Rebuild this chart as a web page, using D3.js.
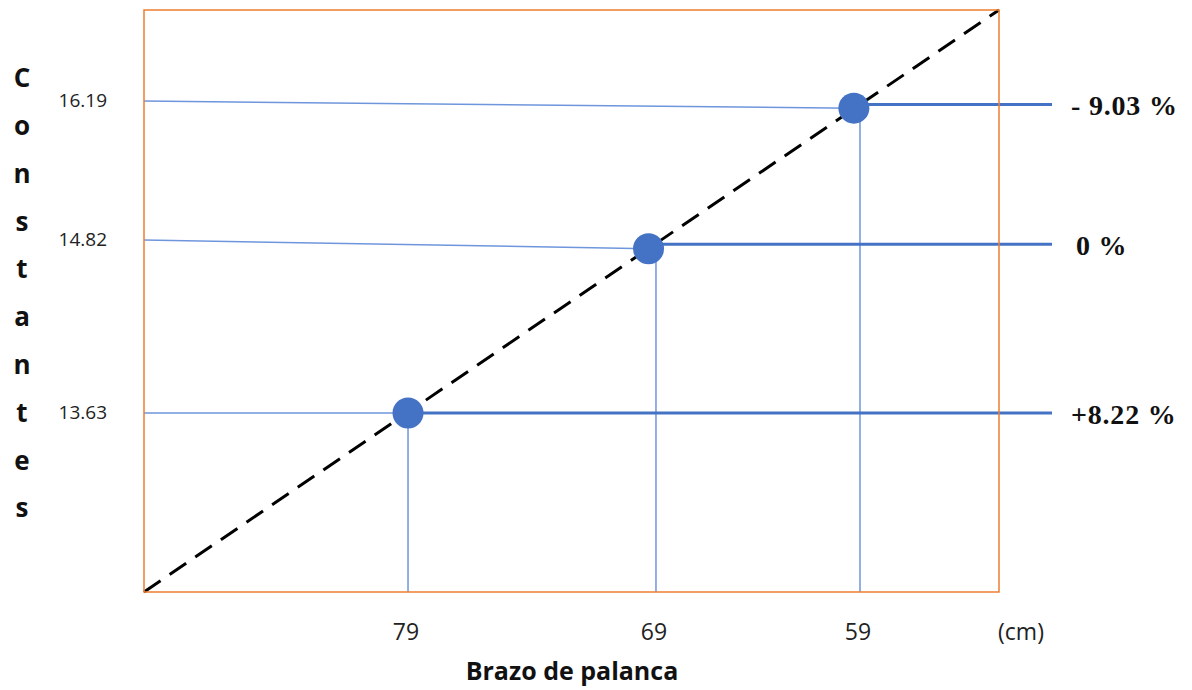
<!DOCTYPE html>
<html>
<head>
<meta charset="utf-8">
<script src="https://cdn.jsdelivr.net/npm/d3@7"></script>
<style>
  html, body { margin: 0; padding: 0; background: #fff; }
  svg { display: block; }
</style>
</head>
<body>
<svg id="chart" width="1192" height="690"></svg>
<script>
// ---- data ----
const xTicks = [79, 69, 59];                  // Brazo de palanca (cm)
const yTicks = [13.63, 14.82, 16.19];         // Constantes
const markerX = [79, 69.3, 59.3];             // marker positions (x value)
const markerY = [13.63, 14.76, 16.12];        // marker positions (y value)
const pctLabels = ["+8.22 %", "0 %", "- 9.03 %"];
const xDomain = [90, 79, 69, 59, 50];
const yDomain = [12.4, 13.63, 14.82, 16.19, 17.1];

const svg = d3.select("#chart");
const margin = {left: 144, top: 10, right: 193, bottom: 98};
const W = 1192, H = 690;
const w = W - margin.left - margin.right;
const h = H - margin.top - margin.bottom;

const x = d3.scaleLinear().domain(xDomain)
  .range([0, 0.3088, 0.5988, 0.8374, 1].map(f => f * w));
const y = d3.scaleLinear().domain(yDomain)
  .range([1, 0.6924, 0.3952, 0.1564, 0].map(f => f * h));

const g = svg.append("g").attr("transform", `translate(${margin.left},${margin.top})`);

const thin = "#6f96dc", thick = "#4472c4";

// diagonal dashed line
g.append("line")
  .attr("x1", 0).attr("y1", h).attr("x2", w).attr("y2", 0)
  .attr("stroke", "#000").attr("stroke-width", 3)
  .attr("stroke-dasharray", "20 11");

// thin horizontal lines from left edge to markers
g.selectAll(".hthin").data(yTicks).join("line")
  .attr("x1", 0).attr("y1", d => y(d))
  .attr("x2", (d, i) => x(markerX[i])).attr("y2", (d, i) => y(markerY[i]))
  .attr("stroke", thin).attr("stroke-width", 1.5);

// thin vertical lines from markers to bottom
g.selectAll(".vthin").data(xTicks).join("line")
  .attr("x1", d => x(d)).attr("y1", (d, i) => y(markerY[i]))
  .attr("x2", d => x(d)).attr("y2", h)
  .attr("stroke", thin).attr("stroke-width", 1.5);

// thick right lines
const rightEnd = w + 53;
g.selectAll(".hthick").data(yTicks).join("line")
  .attr("x1", (d, i) => x(markerX[i]))
  .attr("y1", (d, i) => (y(d) + y(markerY[i])) / 2)
  .attr("x2", rightEnd)
  .attr("y2", (d, i) => (y(d) + y(markerY[i])) / 2)
  .attr("stroke", thick).attr("stroke-width", 3);

// plot frame
g.append("rect").attr("x", 0).attr("y", 0).attr("width", w).attr("height", h)
  .attr("fill", "none").attr("stroke", "#ed7d31").attr("stroke-width", 1.5);

// markers
g.selectAll(".mk").data(markerX).join("circle")
  .attr("cx", d => x(d)).attr("cy", (d, i) => y(markerY[i]))
  .attr("r", 15.5).attr("fill", thick);

// y tick labels
g.selectAll(".ylab").data(yTicks).join("text")
  .attr("x", -37).attr("y", d => y(d) - 1).attr("dy", "0.35em")
  .attr("text-anchor", "end")
  .attr("font-family", "'Open Sans', sans-serif").attr("font-size", 19)
  .attr("fill", "#222").text(d => d.toFixed(2));

// x tick labels
g.selectAll(".xlab").data(xTicks).join("text")
  .attr("x", d => x(d) - 2).attr("y", h + 40)
  .attr("dy", "0.35em").attr("text-anchor", "middle")
  .attr("font-family", "'Open Sans', sans-serif").attr("font-size", 23)
  .attr("fill", "#222").text(d => d);

g.append("text").attr("x", w + 22).attr("y", h + 40).attr("dy", "0.35em")
  .attr("text-anchor", "middle")
  .attr("font-family", "'Open Sans', sans-serif").attr("font-size", 23)
  .attr("fill", "#222").text("(cm)");

// x title
svg.append("text").attr("x", 572).attr("y", 671).attr("dy", "0.35em")
  .attr("text-anchor", "middle")
  .attr("font-family", "'Open Sans', sans-serif").attr("font-size", 25)
  .attr("font-weight", "bold").attr("fill", "#111").text("Brazo de palanca");

// y title, stacked letters
const yTitle = "Constantes".split("");
svg.selectAll(".yt").data(yTitle).join("text")
  .attr("x", 22).attr("y", (d, i) => 78 + i * 47.8).attr("dy", "0.35em")
  .attr("text-anchor", "middle")
  .attr("font-family", "'Open Sans', sans-serif").attr("font-size", 26)
  .attr("font-weight", "bold").attr("fill", "#111").text(d => d);

// percentage labels
g.selectAll(".pct").data(pctLabels).join("text")
  .attr("x", (d, i) => w + (d === "0 %" ? 77 : 72))
  .attr("y", (d, i) => (y(yTicks[i]) + y(markerY[i])) / 2 + 1)
  .attr("dy", "0.35em")
  .attr("font-family", "'Liberation Serif', 'Times New Roman', serif")
  .attr("font-size", 28).attr("font-weight", "bold").attr("fill", "#111")
  .attr("letter-spacing", 0.8)
  .text(d => d);
</script>
</body>
</html>
